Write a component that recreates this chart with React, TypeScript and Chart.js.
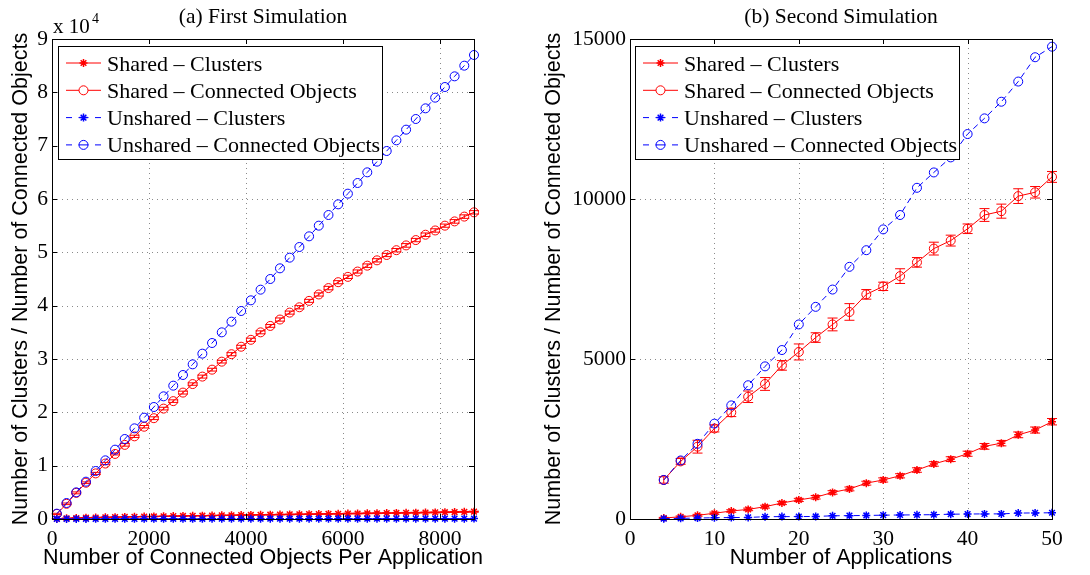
import React, { useEffect, useRef } from "react";
import { Chart, registerables } from "chart.js";

Chart.register(...registerables);

// ---------------- data: (a) First Simulation ----------------
const leftX = [
  100, 300, 500, 700, 900, 1100, 1300, 1500, 1700, 1900,
  2100, 2300, 2500, 2700, 2900, 3100, 3300, 3500, 3700, 3900,
  4100, 4300, 4500, 4700, 4900, 5100, 5300, 5500, 5700, 5900,
  6100, 6300, 6500, 6700, 6900, 7100, 7300, 7500, 7700, 7900,
  8100, 8300, 8500, 8700,
];
const leftSharedClusters = [
  60, 130, 190, 240, 280, 320, 350, 390, 420, 450,
  480, 510, 540, 570, 600, 620, 650, 680, 700, 730,
  760, 780, 810, 830, 860, 880, 910, 930, 960, 980,
  1010, 1030, 1060, 1080, 1110, 1130, 1160, 1180, 1210, 1240,
  1270, 1300, 1340, 1380,
];
const leftSharedClustersErr = [
  10, 15, 20, 20, 25, 25, 30, 30, 30, 35,
  35, 35, 40, 40, 40, 45, 45, 45, 50, 50,
  50, 55, 55, 55, 60, 60, 60, 60, 65, 65,
  65, 70, 70, 70, 70, 75, 75, 75, 80, 80,
  80, 80, 85, 85,
];
const leftSharedConnected = [
  950, 2850, 4900, 6800, 8550, 10400, 12200, 13900, 15500, 17300,
  18900, 20700, 22100, 23700, 25300, 26700, 28000, 29500, 30900, 32300,
  33600, 35000, 36200, 37400, 38700, 39700, 40900, 42100, 43300, 44400,
  45400, 46400, 47500, 48500, 49500, 50400, 51300, 52300, 53300, 54100,
  55000, 55800, 56700, 57500,
];
const leftSharedConnectedErr = [
  120, 150, 180, 160, 200, 220, 190, 240, 210, 230,
  260, 250, 240, 270, 230, 280, 260, 250, 290, 270,
  300, 280, 260, 300, 290, 310, 280, 300, 320, 290,
  310, 300, 330, 310, 300, 320, 340, 310, 330, 320,
  300, 340, 330, 320,
];
const leftUnsharedClusters = [
  10, 15, 19, 22, 24, 27, 29, 31, 32, 34,
  35, 37, 38, 40, 41, 42, 44, 45, 46, 47,
  48, 50, 51, 52, 53, 54, 55, 56, 57, 58,
  59, 60, 61, 62, 63, 63, 64, 65, 66, 67,
  68, 69, 70, 71,
];
const leftUnsharedConnected = [
  1000, 3000, 5000, 7000, 9000, 11000, 13000, 15000, 17000, 19000,
  21000, 23000, 25000, 27000, 29000, 31000, 33000, 35000, 37000, 39000,
  41000, 43000, 45000, 47000, 49000, 51000, 53000, 55000, 57000, 59000,
  61000, 63000, 65000, 67000, 69000, 71000, 73000, 75000, 77000, 79000,
  81000, 83000, 85000, 87000,
];
const leftXTicks = [0, 2000, 4000, 6000, 8000];
const leftYTicks = [0, 10000, 20000, 30000, 40000, 50000, 60000, 70000, 80000, 90000];

// ---------------- data: (b) Second Simulation ----------------
const rightX = [4, 6, 8, 10, 12, 14, 16, 18, 20, 22, 24, 26, 28, 30, 32, 34, 36, 38, 40, 42, 44, 46, 48, 50];
const rightSharedClusters = [
  30, 70, 115, 180, 250, 300, 385, 500, 595, 680,
  830, 940, 1120, 1220, 1350, 1530, 1720, 1870, 2040, 2270,
  2370, 2630, 2780, 3040,
];
const rightSharedClustersErr = [
  20, 25, 30, 35, 40, 40, 45, 50, 50, 55,
  55, 60, 60, 65, 65, 70, 70, 75, 80, 90,
  85, 90, 95, 100,
];
const rightSharedConnected = [
  1220, 1800, 2260, 2830, 3330, 3820, 4220, 4800, 5220, 5670,
  6080, 6470, 7020, 7270, 7590, 8020, 8450, 8700, 9070, 9500,
  9620, 10090, 10210, 10690,
];
const rightSharedConnectedErr = [
  100, 90, 200, 110, 130, 180, 200, 150, 250, 150,
  200, 260, 150, 130, 230, 150, 200, 170, 150, 200,
  220, 230, 180, 170,
];
const rightUnsharedClusters = [
  10, 20, 30, 40, 45, 50, 70, 75, 75, 80,
  100, 105, 110, 120, 125, 130, 135, 150, 155, 160,
  160, 185, 190, 195,
];
const rightUnsharedConnected = [
  1220, 1830, 2350, 2980, 3550, 4180, 4770, 5280, 6080, 6630,
  7170, 7880, 8400, 9050, 9500, 10350, 10830, 11300, 12030, 12520,
  13040, 13670, 14430, 14760,
];
const rightXTicks = [0, 10, 20, 30, 40, 50];
const rightYTicks = [0, 5000, 10000, 15000];

const seriesLabels = [
  "Shared \u2013 Clusters",
  "Shared \u2013 Connected Objects",
  "Unshared \u2013 Clusters",
  "Unshared \u2013 Connected Objects",
];
const yAxisTitle = "Number of Clusters / Number of Connected Objects";

// ---------------- styling ----------------
const RED = "#ff0000";
const BLUE = "#0000ff";
const SERIF = '"Liberation Serif", "Times New Roman", serif';
const SANS = '"Liberation Sans", Arial, sans-serif';
const H = 575;

type Series = {
  label: string;
  color: string;
  dashed: boolean;
  marker: "star" | "circle";
  values: number[];
  errors?: number[];
  order: number;
};

type PanelSpec = {
  title: string;
  xTitle: string;
  x: number[];
  series: Series[];
  xMin: number;
  xMax: number;
  xTicks: number[];
  yMax: number;
  yTicks: number[];
  yFmt: (v: number) => string;
  exponent: boolean;
  canvasLeft: number;
  canvasWidth: number;
  plotLeft: number; // relative to canvas
  plotRight: number;
  yTitleBaseline: number;
  legendLeft: number;
};

function drawStar(ctx: CanvasRenderingContext2D, x: number, y: number, r: number) {
  ctx.beginPath();
  ctx.moveTo(x - r, y);
  ctx.lineTo(x + r, y);
  ctx.moveTo(x, y - r);
  ctx.lineTo(x, y + r);
  const d = r * 0.7071;
  ctx.moveTo(x - d, y - d);
  ctx.lineTo(x + d, y + d);
  ctx.moveTo(x - d, y + d);
  ctx.lineTo(x + d, y - d);
  ctx.stroke();
}

function makePlugin(p: PanelSpec) {
  return {
    id: "matlabPanel",
    beforeDatasetsDraw(chart: any) {
      const { ctx, chartArea: a, scales } = chart;
      ctx.save();
      ctx.strokeStyle = "#8a8a8a";
      ctx.lineWidth = 1;
      ctx.setLineDash([1, 4]);
      for (const t of scales.x.ticks) {
        const px = Math.round(scales.x.getPixelForValue(t.value)) + 0.5;
        if (px <= a.left + 1 || px >= a.right - 1) continue;
        ctx.beginPath();
        ctx.moveTo(px, a.bottom);
        ctx.lineTo(px, a.top);
        ctx.stroke();
      }
      for (const t of scales.y.ticks) {
        const py = Math.round(scales.y.getPixelForValue(t.value)) + 0.5;
        if (py <= a.top + 1 || py >= a.bottom - 1) continue;
        ctx.beginPath();
        ctx.moveTo(a.left, py);
        ctx.lineTo(a.right, py);
        ctx.stroke();
      }
      ctx.restore();
    },
    afterDatasetDraw(chart: any, args: any) {
      const ds = chart.data.datasets[args.index];
      const errs: number[] | undefined = ds.errors;
      if (!errs) return;
      const { ctx, scales } = chart;
      const meta = args.meta;
      ctx.save();
      ctx.strokeStyle = ds.borderColor;
      ctx.lineWidth = 1;
      ctx.setLineDash([]);
      meta.data.forEach((pt: any, i: number) => {
        const v = ds.data[i].y;
        const e = errs[i];
        const y1 = scales.y.getPixelForValue(v - e);
        const y2 = scales.y.getPixelForValue(v + e);
        const x = pt.x;
        ctx.beginPath();
        ctx.moveTo(x, y1);
        ctx.lineTo(x, y2);
        ctx.moveTo(x - 5, y1);
        ctx.lineTo(x + 5, y1);
        ctx.moveTo(x - 5, y2);
        ctx.lineTo(x + 5, y2);
        ctx.stroke();
      });
      ctx.restore();
    },
    afterDraw(chart: any) {
      const { ctx, chartArea: a, scales } = chart;
      ctx.save();
      ctx.setLineDash([]);
      ctx.strokeStyle = "#000";
      ctx.lineWidth = 1;
      // inner tick marks
      const tl = 5;
      ctx.beginPath();
      for (const t of scales.x.ticks) {
        const px = Math.round(scales.x.getPixelForValue(t.value)) + 0.5;
        ctx.moveTo(px, a.bottom);
        ctx.lineTo(px, a.bottom - tl);
        ctx.moveTo(px, a.top);
        ctx.lineTo(px, a.top + tl);
      }
      for (const t of scales.y.ticks) {
        const py = Math.round(scales.y.getPixelForValue(t.value)) + 0.5;
        ctx.moveTo(a.left, py);
        ctx.lineTo(a.left + tl, py);
        ctx.moveTo(a.right, py);
        ctx.lineTo(a.right - tl, py);
      }
      ctx.stroke();
      // box
      ctx.strokeRect(Math.round(a.left) + 0.5, Math.round(a.top) + 0.5, Math.round(a.right - a.left), Math.round(a.bottom - a.top));

      const cx = (a.left + a.right) / 2;
      const cy = (a.top + a.bottom) / 2;
      ctx.fillStyle = "#000";
      // title
      ctx.font = `21.5px ${SERIF}`;
      ctx.textAlign = "center";
      ctx.textBaseline = "alphabetic";
      ctx.fillText(p.title, cx, 23);
      // x title
      ctx.font = `21.5px ${SANS}`;
      ctx.fillText(p.xTitle, cx, 564);
      // y title
      ctx.save();
      ctx.translate(p.yTitleBaseline, cy);
      ctx.rotate(-Math.PI / 2);
      ctx.fillText(yAxisTitle, 0, 0);
      ctx.restore();
      // exponent
      if (p.exponent) {
        ctx.textAlign = "left";
        ctx.font = `21px ${SERIF}`;
        ctx.fillText("x 10", a.left + 1, 33);
        ctx.font = `14px ${SERIF}`;
        ctx.fillText("4", a.left + 40, 23);
      }
      // legend
      const bx = p.legendLeft;
      const by = 46;
      ctx.fillStyle = "#fff";
      ctx.fillRect(bx, by, 324, 113);
      ctx.strokeStyle = "#000";
      ctx.lineWidth = 1;
      ctx.strokeRect(bx + 0.5, by + 0.5, 324, 113);
      p.series.forEach((s, i) => {
        const ry = 63 + i * 27.3;
        const x0 = bx + 8;
        const x1 = bx + 43;
        const mx = bx + 25.5;
        ctx.strokeStyle = s.color;
        ctx.lineWidth = 1;
        ctx.beginPath();
        if (s.dashed) {
          ctx.moveTo(x0, ry); ctx.lineTo(x0 + 6, ry);
          ctx.moveTo(mx - 5, ry); ctx.lineTo(mx + 5, ry);
          ctx.moveTo(x1 - 6, ry); ctx.lineTo(x1, ry);
        } else if (s.marker === "circle") {
          ctx.moveTo(x0, ry); ctx.lineTo(mx - 4.5, ry);
          ctx.moveTo(mx + 4.5, ry); ctx.lineTo(x1, ry);
        } else {
          ctx.moveTo(x0, ry); ctx.lineTo(x1, ry);
        }
        ctx.stroke();
        if (s.marker === "circle") {
          ctx.beginPath();
          ctx.arc(mx, ry, 4.5, 0, Math.PI * 2);
          ctx.stroke();
        } else {
          ctx.lineWidth = 1.5;
          drawStar(ctx, mx, ry, 4);
        }
        ctx.fillStyle = "#000";
        ctx.font = `22px ${SERIF}`;
        ctx.textAlign = "left";
        ctx.textBaseline = "alphabetic";
        ctx.fillText(s.label, bx + 49, ry + 7.5);
      });
      ctx.restore();
    },
  };
}

function makeConfig(p: PanelSpec): any {
  const datasets = p.series.map((s) => ({
    label: s.label,
    data: p.x.map((xv, i) => ({ x: xv, y: s.values[i] })),
    errors: s.errors,
    borderColor: s.color,
    backgroundColor: "rgba(0,0,0,0)",
    borderWidth: 1,
    borderDash: s.dashed ? [6, 4] : [],
    pointStyle: s.marker === "star" ? "star" : "circle",
    pointRadius: s.marker === "star" ? 4 : 4.5,
    pointBorderWidth: s.marker === "star" ? 1.5 : 1,
    pointBorderColor: s.color,
    pointBackgroundColor: "rgba(0,0,0,0)",
    pointHoverRadius: 0,
    fill: false,
    tension: 0,
    clip: false,
    order: s.order,
  }));
  return {
    type: "line",
    data: { datasets },
    options: {
      animation: false,
      responsive: false,
      devicePixelRatio: 1,
      events: [],
      layout: {
        padding: { left: 0, top: 39, right: p.canvasWidth - p.plotRight, bottom: 0 },
      },
      plugins: { legend: { display: false }, tooltip: { enabled: false }, title: { display: false } },
      scales: {
        x: {
          type: "linear",
          min: p.xMin,
          max: p.xMax,
          afterFit: (s: any) => { s.height = H - 519; },
          afterBuildTicks: (s: any) => { s.ticks = p.xTicks.map((v) => ({ value: v })); },
          grid: { display: false, drawTicks: false },
          border: { display: false },
          ticks: {
            autoSkip: false,
            maxRotation: 0,
            padding: 7,
            color: "#000",
            font: { family: SERIF, size: 21.5 },
            callback: (v: number) => String(v),
          },
        },
        y: {
          type: "linear",
          min: 0,
          max: p.yMax,
          afterFit: (s: any) => { s.width = p.plotLeft; },
          afterBuildTicks: (s: any) => { s.ticks = p.yTicks.map((v) => ({ value: v })); },
          grid: { display: false, drawTicks: false },
          border: { display: false },
          ticks: {
            autoSkip: false,
            padding: 4,
            color: "#000",
            font: { family: SERIF, size: 21.5 },
            callback: (v: number) => p.yFmt(v),
          },
        },
      },
    },
    plugins: [makePlugin(p)],
  };
}

const leftSpec: PanelSpec = {
  title: "(a) First Simulation",
  xTitle: "Number of Connected Objects Per Application",
  x: leftX,
  series: [
    { label: seriesLabels[0], color: RED, dashed: false, marker: "star", values: leftSharedClusters, errors: leftSharedClustersErr, order: 3 },
    { label: seriesLabels[1], color: RED, dashed: false, marker: "circle", values: leftSharedConnected, errors: leftSharedConnectedErr, order: 2 },
    { label: seriesLabels[2], color: BLUE, dashed: true, marker: "star", values: leftUnsharedClusters, order: 1 },
    { label: seriesLabels[3], color: BLUE, dashed: true, marker: "circle", values: leftUnsharedConnected, order: 0 },
  ],
  xMin: 0,
  xMax: 8700,
  xTicks: leftXTicks,
  yMax: 90000,
  yTicks: leftYTicks,
  yFmt: (v) => String(v / 10000),
  exponent: true,
  canvasLeft: 0,
  canvasWidth: 535,
  plotLeft: 52,
  plotRight: 474,
  yTitleBaseline: 27,
  legendLeft: 58,
};

const rightSpec: PanelSpec = {
  title: "(b) Second Simulation",
  xTitle: "Number of Applications",
  x: rightX,
  series: [
    { label: seriesLabels[0], color: RED, dashed: false, marker: "star", values: rightSharedClusters, errors: rightSharedClustersErr, order: 3 },
    { label: seriesLabels[1], color: RED, dashed: false, marker: "circle", values: rightSharedConnected, errors: rightSharedConnectedErr, order: 2 },
    { label: seriesLabels[2], color: BLUE, dashed: true, marker: "star", values: rightUnsharedClusters, order: 1 },
    { label: seriesLabels[3], color: BLUE, dashed: true, marker: "circle", values: rightUnsharedConnected, order: 0 },
  ],
  xMin: 0,
  xMax: 50,
  xTicks: rightXTicks,
  yMax: 15000,
  yTicks: rightYTicks,
  yFmt: (v) => String(v),
  exponent: false,
  canvasLeft: 535,
  canvasWidth: 555,
  plotLeft: 95,
  plotRight: 517,
  yTitleBaseline: 25,
  legendLeft: 100,
};

function Panel({ spec }: { spec: PanelSpec }) {
  const ref = useRef<HTMLCanvasElement>(null);
  useEffect(() => {
    const chart = new Chart(ref.current as HTMLCanvasElement, makeConfig(spec));
    return () => chart.destroy();
  }, [spec]);
  return (
    <canvas
      ref={ref}
      width={spec.canvasWidth}
      height={H}
      style={{ position: "absolute", left: spec.canvasLeft, top: 0, width: spec.canvasWidth, height: H }}
    />
  );
}

export default function App() {
  return (
    <div style={{ position: "fixed", left: 0, top: 0, width: 1090, height: H, background: "#fff", overflow: "hidden" }}>
      <Panel spec={leftSpec} />
      <Panel spec={rightSpec} />
    </div>
  );
}
